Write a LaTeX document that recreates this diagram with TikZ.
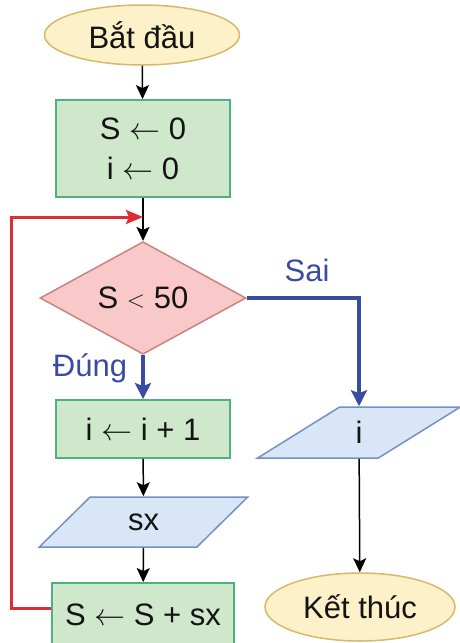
\RequirePackage{fix-cm}
\documentclass[tikz,border=0pt]{standalone}
\usepackage{fontspec}
\setmainfont{Liberation Sans}
\usetikzlibrary{shapes.geometric,arrows.meta,calc}
\definecolor{yfill}{HTML}{FDF1C9}
\definecolor{ydraw}{HTML}{D6B96A}
\definecolor{gfill}{HTML}{CFE7CA}
\definecolor{gdraw}{HTML}{4DB27F}
\definecolor{pfill}{HTML}{F8C9C8}
\definecolor{pdraw}{HTML}{C98481}
\definecolor{bfill}{HTML}{D9E6F7}
\definecolor{bdraw}{HTML}{7391C2}
\definecolor{lblue}{HTML}{3A4CA2}
\definecolor{lred}{HTML}{DC2E35}
\newcommand{\asg}{\ $\leftarrow$\ }
\newcommand{\smlt}{\raisebox{1.5pt}{\fontsize{24}{26}\selectfont$<$}}
\tikzset{
  every node/.style={font=\fontsize{31}{40}\selectfont, text=black!92},
  term/.style={ellipse, draw=ydraw, fill=yfill, line width=1.5pt, inner sep=0pt},
  proc/.style={rectangle, draw=gdraw, fill=gfill, line width=1.8pt, inner sep=0pt, align=center},
  dec/.style={diamond, draw=pdraw, fill=pfill, line width=1.5pt, inner sep=0pt},
  io/.style={trapezium, trapezium stretches=true, draw=bdraw, fill=bfill, line width=1.5pt, inner sep=0pt},
  blk/.style={draw=black, line width=1.5pt, -{Stealth[length=14pt,width=13pt,inset=3pt]}},
  bluearr/.style={draw=lblue, line width=3.4pt, -{Stealth[length=16pt,width=16pt,inset=3pt]}},
  redarr/.style={draw=lred, line width=3pt, -{Stealth[length=17pt,width=14pt,inset=3pt]}},
  lbl/.style={text=lblue}
}
\begin{document}
\begin{tikzpicture}[x=1pt,y=-1pt]
\useasboundingbox (0,0) rectangle (460,643);
\node[term, minimum width=195, minimum height=60] (start) at (142,35) {Bắt đầu};
\node[proc, minimum width=174, minimum height=97] (init) at (143,148.5) {S\asg 0\\i\asg 0};
\node[dec, minimum width=206, minimum height=100] (cond) at (143,298) {S \smlt{} 50};
\node[proc, minimum width=174, minimum height=58] (inc) at (143,429) {i\asg i + 1};
\node[io, trapezium left angle=49, trapezium right angle=131, minimum width=209, minimum height=50] (sx) at (143.5,522) {sx};
\node[proc, minimum width=182, minimum height=64] (sum) at (143,615) {S\asg S + sx};
\node[io, trapezium left angle=57, trapezium right angle=123, minimum width=203, minimum height=51] (outi) at (359,432.5) {i};
\node[term, minimum width=190, minimum height=68] (end) at (360,607) {Kết thúc};
\node[lbl] (sai) at (307,270) {Sai};
\node[lbl] (dung) at (90,368) {Đúng};
\coordinate (join) at (143,217);
\draw[blk] (start) -- (init);
\draw[blk] (init) -- (cond);
\draw[bluearr] (cond.south) -- (inc.north);
\draw[bluearr] (cond.east) -| (outi.north);
\draw[blk] (inc) -- (sx);
\draw[blk] (sx) -- (sum);
\draw[blk] (outi) -- (end);
\draw[redarr] (sum.west |- 0,608) -- ++(-40,0) |- (join);
\end{tikzpicture}
\end{document}
